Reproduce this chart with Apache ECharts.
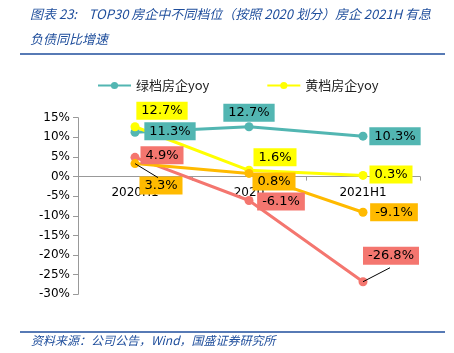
<!DOCTYPE html>
<html>
<head>
<meta charset="utf-8">
<script src="https://cdn.jsdelivr.net/npm/echarts@6/dist/echarts.min.js"></script>
<style>
html, body { margin: 0; padding: 0; background: #fff; }
#main { width: 454px; height: 353px; }
</style>
</head>
<body>
<div id="main"></div>
<script>
var categories = ['2020H1', '2020', '2021H1'];
var greenYoy = [11.3, 12.7, 10.3];
var yellowYoy = [12.7, 1.6, 0.3];
var redYoy = [4.9, -6.1, -26.8];
var orangeYoy = [3.3, 0.8, -9.1];
var yTicks = { min: -30, max: 15, interval: 5 };

// 标签相对数据点的偏移
var labelShift = {
    0: [[35, -1], [0, -14], [32, 0]],
    1: [[27, -16], [26, -13], [28, -1]],
    2: [[27, -2], [32, 1], [28, -26]],
    3: [[26, 22], [25, 8], [31, 0]]
};
// 引导线：[系列下标, 点下标, 终点偏移]
var leaderLines = [
    [2, 2, [27, -14]],
    [3, 0, [23, 14]]
];

var blue = '#1F4E9C';
var font = 'DejaVu Sans';
var cjk = 'Noto Sans CJK SC';
var allValues = [greenYoy, yellowYoy, redYoy, orangeYoy];

function makeSeries(name, values, color, idx) {
    return {
        name: name,
        type: 'line',
        data: values,
        symbol: 'circle',
        symbolSize: 9,
        color: color,
        lineStyle: { width: 3, color: color },
        itemStyle: { color: color },
        label: {
            show: true,
            position: 'inside',
            formatter: function (p) { return p.value.toFixed(1) + '%'; },
            fontFamily: font,
            fontSize: 13,
            color: '#000',
            backgroundColor: color,
            padding: [3, 5, 2, 5]
        },
        labelLayout: function (p) {
            var s = labelShift[idx][p.dataIndex];
            return { dx: s[0], dy: s[1] };
        }
    };
}

var myChart = echarts.init(document.getElementById('main'));
var option = {
    animation: false,
    backgroundColor: '#fff',
    graphic: [
        { type: 'text', left: 30, top: 8, style: { text: '图表 23:    TOP30 房企中不同档位（按照 2020 划分）房企 2021H 有息', fill: blue, font: 'italic 13px "Noto Sans CJK SC"' } },
        { type: 'text', left: 30, top: 33, style: { text: '负债同比增速', fill: blue, font: 'italic 13px "Noto Sans CJK SC"' } },
        { type: 'line', shape: { x1: 20, y1: 54, x2: 445, y2: 54 }, style: { stroke: blue, lineWidth: 1.5 } },
        { type: 'line', shape: { x1: 20, y1: 332, x2: 445, y2: 332 }, style: { stroke: blue, lineWidth: 1.5 } },
        { type: 'text', left: 31, top: 334, style: { text: '资料来源：公司公告，Wind，国盛证券研究所', fill: blue, font: 'italic 12px "Noto Sans CJK SC"' } }
    ],
    legend: {
        data: ['绿档房企yoy', '黄档房企yoy'],
        left: 92,
        top: 74,
        itemWidth: 33,
        itemHeight: 9,
        itemGap: 57,
        textStyle: { fontFamily: cjk, fontSize: 13, color: '#222' }
    },
    grid: { left: 78, right: 34, top: 117.7, bottom: 58.7 },
    xAxis: {
        type: 'category',
        data: categories,
        offset: -117.7,
        axisLine: { onZero: false, lineStyle: { color: '#999', width: 1 } },
        axisTick: { show: true, length: 4, lineStyle: { color: '#999' } },
        axisLabel: { fontFamily: font, fontSize: 12, color: '#000', margin: 10 }
    },
    yAxis: {
        type: 'value',
        min: yTicks.min,
        max: yTicks.max,
        interval: yTicks.interval,
        axisLine: { show: true, lineStyle: { color: '#999', width: 1 } },
        axisTick: { show: true, length: 5, lineStyle: { color: '#999' } },
        splitLine: { show: false },
        axisLabel: { fontFamily: font, fontSize: 12, color: '#000', margin: 8, formatter: '{value}%' }
    },
    series: [
        makeSeries('绿档房企yoy', greenYoy, '#52B6B2', 0),
        makeSeries('黄档房企yoy', yellowYoy, '#FFFF00', 1),
        makeSeries('红档房企yoy', redYoy, '#F4766F', 2),
        makeSeries('橙档房企yoy', orangeYoy, '#FFBA00', 3),
        {
            type: 'custom',
            name: 'leader',
            z: 5,
            silent: true,
            data: leaderLines.map(function (l) {
                return [l[1], allValues[l[0]][l[1]]];
            }),
            renderItem: function (params, api) {
                var p = api.coord([api.value(0), api.value(1)]);
                var d = leaderLines[params.dataIndex][2];
                return {
                    type: 'line',
                    shape: { x1: p[0], y1: p[1], x2: p[0] + d[0], y2: p[1] + d[1] },
                    style: { stroke: '#000', lineWidth: 1 }
                };
            }
        }
    ]
};
myChart.setOption(option);
</script>
</body>
</html>
